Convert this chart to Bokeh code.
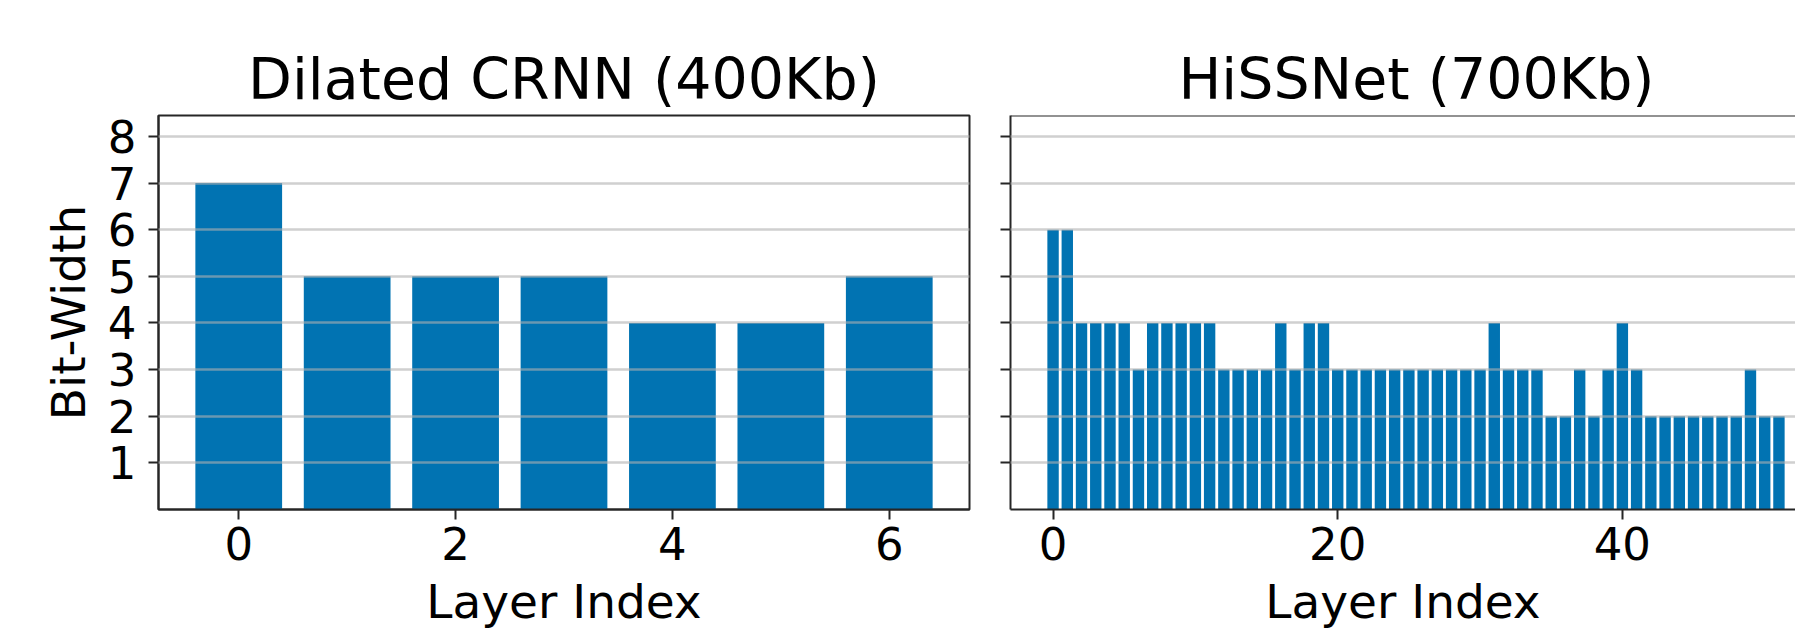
from bokeh.plotting import figure
from bokeh.models import Range1d, FixedTicker, Span
from bokeh.layouts import row
from bokeh.embed import file_html
from bokeh.resources import INLINE

# ---- data ----
crnn_title = "Dilated CRNN (400Kb)"
crnn_bits = [7, 5, 5, 5, 4, 4, 5]

hiss_title = "HiSSNet (700Kb)"
hiss_bits = [6, 6, 4, 4, 4, 4, 3, 4, 4, 4, 4, 4, 3, 3, 3, 3, 4, 3, 4, 4,
             3, 3, 3, 3, 3, 3, 3, 3, 3, 3, 3, 4, 3, 3, 3, 2, 2, 3, 2, 3,
             4, 3, 2, 2, 2, 2, 2, 2, 2, 3, 2, 2]

y_label = "Bit-Width"
x_label = "Layer Index"
y_ticks = [1, 2, 3, 4, 5, 6, 7, 8]
crnn_xticks = [0, 2, 4, 6]
hiss_xticks = [0, 20, 40]

BAR = "#0173B2"
FONT = "DejaVu Sans"
SPINE = "#262626"
H = 631
TOP = 115
FRAME_H = 395
BOTTOM = H - TOP - FRAME_H
YMAX = 8.45
BAR_W = 0.8


def full_range(n):
    lo, hi = -BAR_W / 2, n - 1 + BAR_W / 2
    m = 0.05 * (hi - lo)
    return lo - m, hi + m


def style(p, xticks):
    p.title.text_font = FONT
    p.title.text_font_size = "57px"
    p.title.text_font_style = "normal"
    p.title.text_color = "black"
    p.title.standoff = 7
    p.xgrid.visible = False
    p.ygrid.ticker = FixedTicker(ticks=y_ticks)
    p.ygrid.grid_line_color = "#b0b0b0"
    p.ygrid.grid_line_alpha = 0.6
    p.ygrid.grid_line_width = 2.5
    p.ygrid.level = "overlay"
    for ax in (p.xaxis[0], p.yaxis[0]):
        ax.axis_line_color = SPINE
        ax.axis_line_width = 2
        ax.major_tick_line_color = SPINE
        ax.major_tick_line_width = 2
        ax.major_tick_out = 10
        ax.major_tick_in = 0
        ax.minor_tick_line_color = None
        ax.major_label_text_font = FONT
        ax.major_label_text_font_size = "45px"
        ax.major_label_text_color = "black"
        ax.axis_label_text_font = FONT
        ax.axis_label_text_font_size = "47px"
        ax.axis_label_text_font_style = "normal"
        ax.axis_label_text_color = "black"
    p.xaxis.ticker = FixedTicker(ticks=xticks)
    p.yaxis.ticker = FixedTicker(ticks=y_ticks)
    p.xaxis.major_label_standoff = 7
    p.xaxis.axis_label = x_label
    p.xaxis.axis_label_standoff = 11
    p.background_fill_color = "white"
    p.border_fill_color = "white"


# ---- left panel ----
lo, hi = full_range(len(crnn_bits))
p1 = figure(width=158 + 811 + 20, height=H, output_backend="svg", toolbar_location=None,
            x_range=Range1d(lo, hi), y_range=Range1d(0, YMAX), title=crnn_title,
            min_border_left=158, min_border_right=20, min_border_top=TOP, min_border_bottom=BOTTOM)
p1.vbar(x=list(range(len(crnn_bits))), top=crnn_bits, width=BAR_W, bottom=0,
        fill_color=BAR, line_color=None)
style(p1, crnn_xticks)
p1.title.align = "center"
p1.outline_line_color = SPINE
p1.outline_line_width = 2
p1.yaxis.axis_label = y_label
p1.yaxis.major_label_standoff = 12
p1.yaxis.axis_label_standoff = 9

# ---- right panel (cropped at the right edge) ----
lo2, hi2 = full_range(len(hiss_bits))
vis_end = lo2 + (hi2 - lo2) * 785 / 811
p2 = figure(width=21 + 785, height=H, output_backend="svg", toolbar_location=None,
            x_range=Range1d(lo2, vis_end), y_range=Range1d(0, YMAX), title=hiss_title,
            min_border_left=21, min_border_right=0, min_border_top=TOP, min_border_bottom=BOTTOM)
p2.vbar(x=list(range(len(hiss_bits))), top=hiss_bits, width=BAR_W, bottom=0,
        fill_color=BAR, line_color=None)
style(p2, hiss_xticks)
p2.title.align = "left"
p2.title.offset = 168
p2.outline_line_color = None
p2.yaxis.major_label_overrides = {t: "" for t in y_ticks}
p2.yaxis.major_label_standoff = 0
p2.add_layout(Span(location=YMAX, dimension="width", line_color=SPINE, line_width=2))

layout = row(p1, p2, spacing=0)
open("out.html", "w").write(file_html(layout, INLINE))
